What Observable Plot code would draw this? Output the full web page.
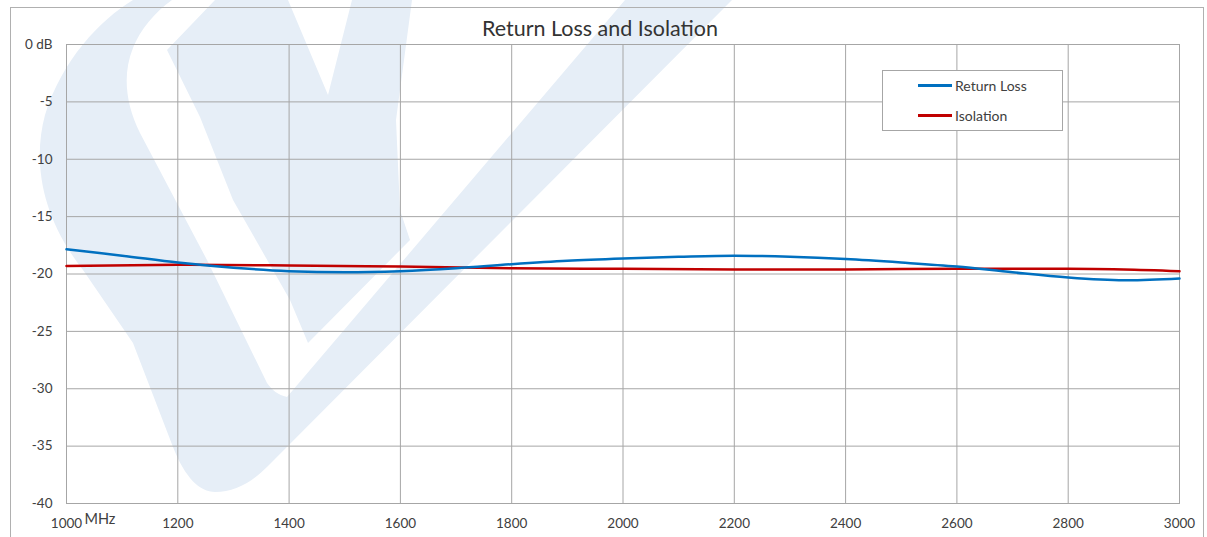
<!DOCTYPE html>
<html>
<head>
<meta charset="utf-8">
<script src="https://cdn.jsdelivr.net/npm/d3@7"></script>
<script src="https://cdn.jsdelivr.net/npm/@observablehq/plot@0.6"></script>
<style>
  html, body { margin: 0; padding: 0; background: #fff; }
  #wrap { position: relative; width: 1207px; height: 537px; overflow: hidden; font-family: Lato, "Open Sans", sans-serif; }
  #wm { position: absolute; left: 0; top: 0; }
  #chart { position: absolute; left: 0; top: 0; }
  #border { position: absolute; left: 10px; top: 7px; width: 1194px; height: 540px; border: 1px solid #b0b0b0; box-sizing: border-box; }
  #title { position: absolute; left: 0; width: 1200px; top: 15px; text-align: center; font-size: 21.5px; color: #333; }
  #legend { position: absolute; left: 882px; top: 70px; width: 181px; height: 61px; background: #fff; border: 1px solid #a6a6a6; box-sizing: border-box; font-size: 14px; color: #404040; }
  .li { position: absolute; left: 35px; display: flex; align-items: center; }
  .sw { width: 34px; height: 3px; margin-right: 3px; }
</style>
</head>
<body>
<div id="wrap">
  <svg id="wm" width="1207" height="537" aria-hidden="true">
    <g fill="#e6eef7">
      <path d="M133,0 C100,20 62,60 45,115 C33,160 40,215 83,270 L133,343 L173,447 C185,478 200,492 215,492 C235,492 252,482 268,466 L732,0 L625,0 L287,397 C278,395 272,390 267,383 L207,260 L140,133 C126,105 122,75 133,48 C140,30 155,12 172,0 Z"/>
      <path d="M167,50 L215,0 L288,0 L328,95 L352,0 L412,0 L396,120 L400,210 L410,240 L308,343 L290,300 L233,200 L200,117 Z"/>
    </g>
  </svg>
  <div id="chart"></div>
  <div id="border"></div>
  <div id="title">Return Loss and Isolation</div>
  <div id="legend">
    <div class="li" style="top:6px"><div class="sw" style="background:#0070c0"></div>Return Loss</div>
    <div class="li" style="top:36px"><div class="sw" style="background:#c00000"></div>Isolation</div>
  </div>
</div>
<script>
const freqRL = [1000,1100,1200,1300,1400,1500,1600,1700,1800,1900,2000,2100,2200,2300,2400,2500,2600,2700,2800,2900,3000];
const returnLoss = [-17.85,-18.4,-19.0,-19.45,-19.75,-19.85,-19.75,-19.5,-19.15,-18.85,-18.65,-18.5,-18.4,-18.5,-18.7,-19.0,-19.35,-19.85,-20.3,-20.55,-20.4];
const freqIso = [1000,1200,1400,1600,1800,2000,2200,2400,2600,2800,2900,3000];
const isolation = [-19.3,-19.2,-19.25,-19.35,-19.5,-19.55,-19.6,-19.6,-19.55,-19.55,-19.6,-19.75];
const xTicks = [1000,1200,1400,1600,1800,2000,2200,2400,2600,2800,3000];
const yTicks = [0,-5,-10,-15,-20,-25,-30,-35,-40];
const xUnit = ["MHz"];

const rl = freqRL.map((f,i)=>({f, v: returnLoss[i]}));
const iso = freqIso.map((f,i)=>({f, v: isolation[i]}));

const chart = Plot.plot({
  width: 1207, height: 537,
  marginLeft: 66, marginRight: 28, marginTop: 44, marginBottom: 34,
  style: { fontFamily: "Lato, 'Open Sans', sans-serif", fontSize: "13.5px", color: "#404040", background: "transparent" },
  x: { domain: [1000, 3000], label: null },
  y: { domain: [-40, 0], label: null },
  marks: [
    Plot.gridX(xTicks, { stroke: "#a6a6a6", strokeOpacity: 1 }),
    Plot.gridY(yTicks, { stroke: "#a6a6a6", strokeOpacity: 1 }),
    Plot.frame({ stroke: "#a6a6a6" }),
    Plot.axisX({ ticks: xTicks, tickFormat: d => String(d), tickSize: 0, tickPadding: 15, fontSize: 13.5, fill: "#404040", label: null }),
    Plot.axisY({ ticks: yTicks, tickFormat: d => d === 0 ? "0 dB" : String(d), tickSize: 0, tickPadding: 14, fontSize: 13.5, fill: "#404040", label: null }),
    Plot.text(xUnit, { x: () => 1000, y: () => -40, text: d => d, dx: 18, dy: 16, textAnchor: "start", lineAnchor: "middle", fontSize: 14.5, fill: "#404040" }),
    Plot.line(iso, { x: "f", y: "v", stroke: "#c00000", strokeWidth: 2.5, curve: "catmull-rom" }),
    Plot.line(rl, { x: "f", y: "v", stroke: "#0070c0", strokeWidth: 2.5, curve: "catmull-rom" })
  ]
});
document.getElementById("chart").appendChild(chart);
</script>
</body>
</html>
